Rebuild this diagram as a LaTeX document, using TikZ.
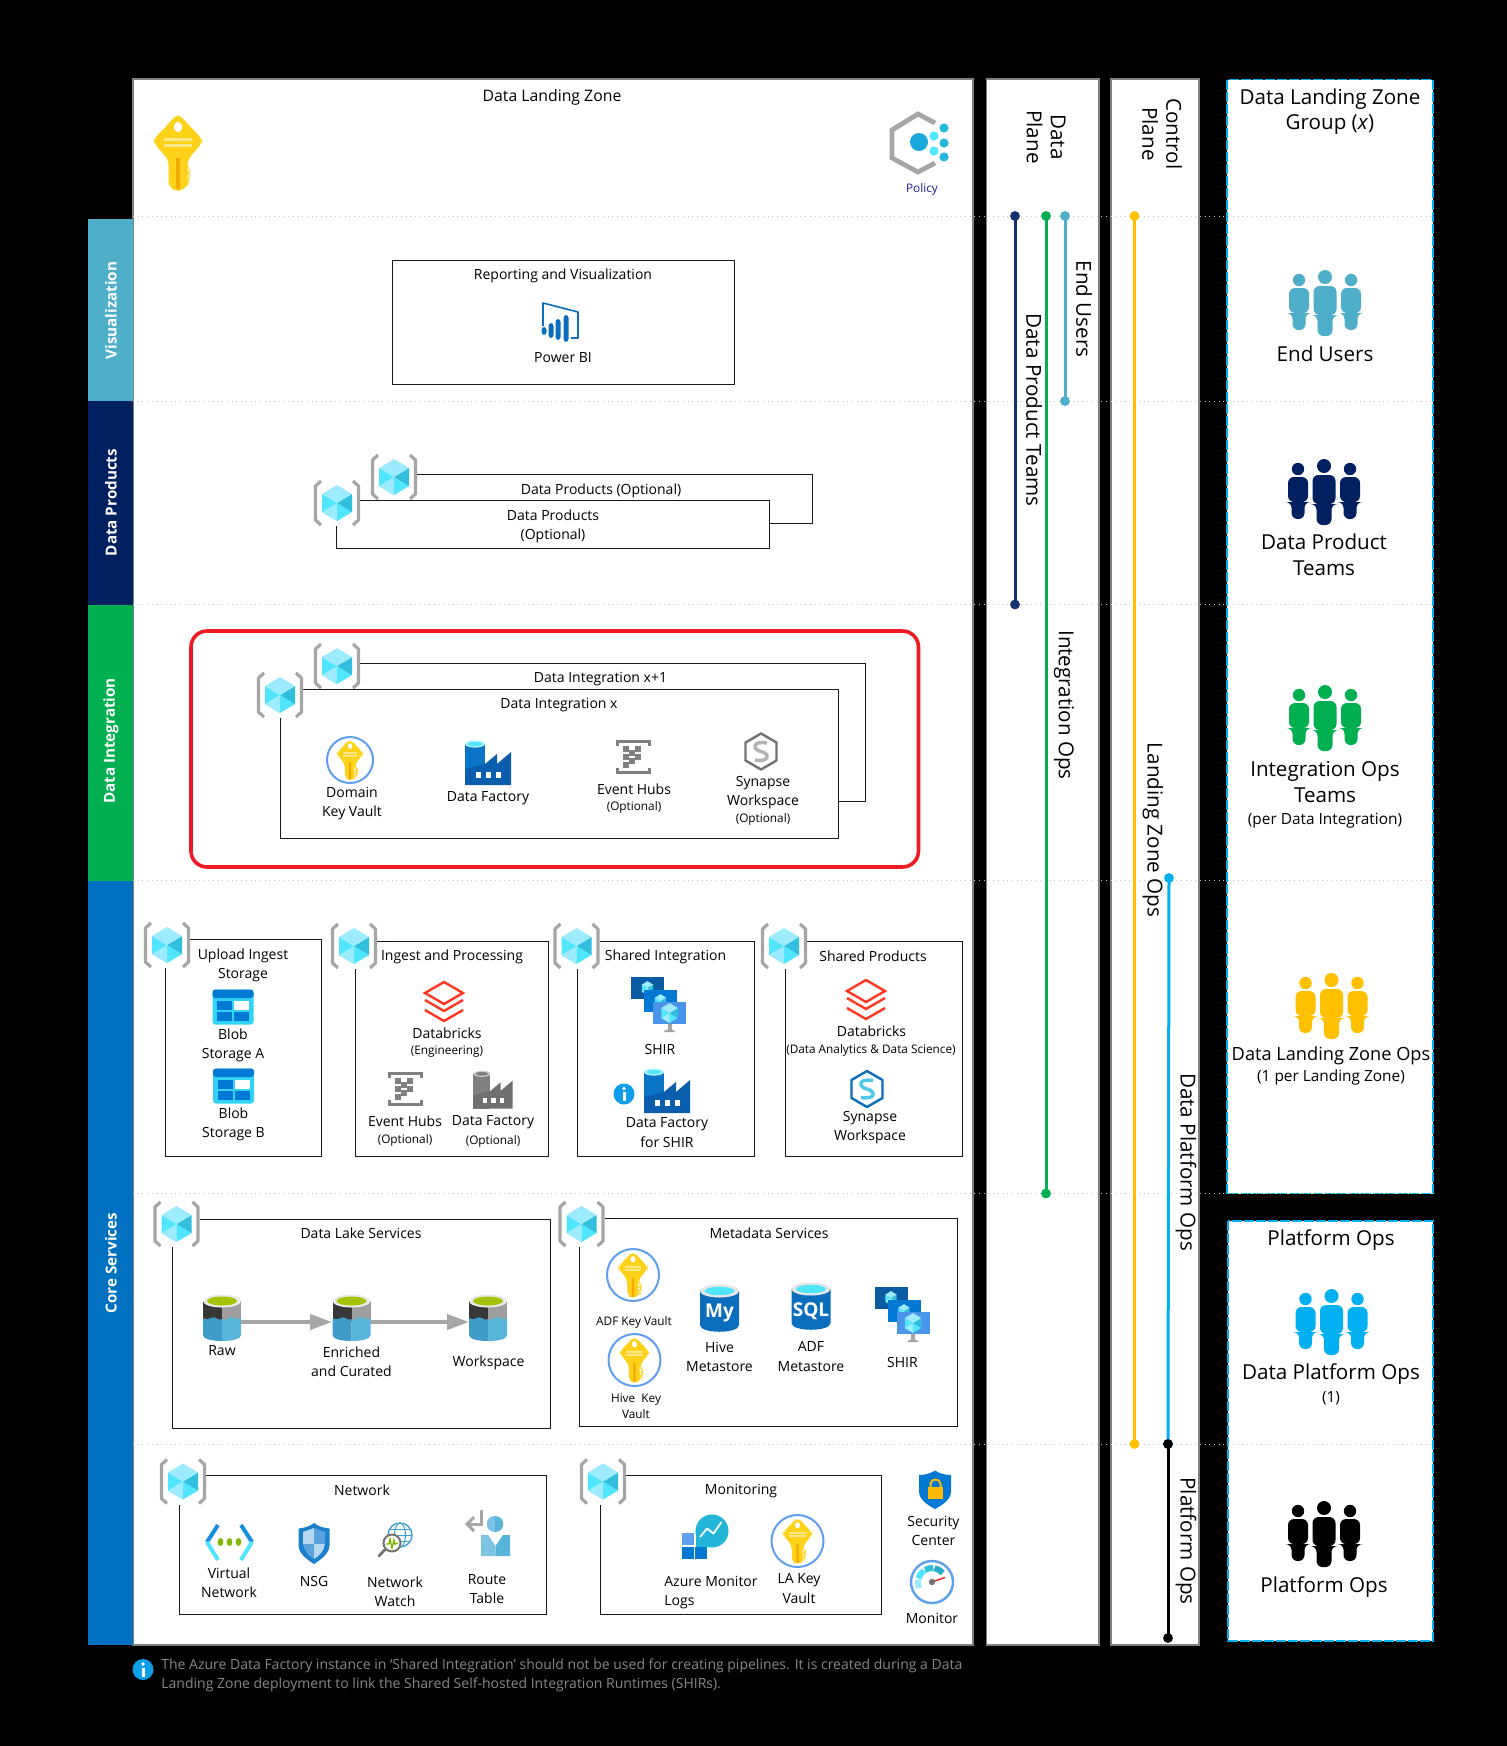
\documentclass[tikz,border=0pt]{standalone}
\usepackage{fontspec}
\setmainfont{Open Sans}
\usetikzlibrary{arrows.meta}
\definecolor{cVis}{HTML}{4FAEC8}
\definecolor{cProd}{HTML}{002060}
\definecolor{cInt}{HTML}{00B050}
\definecolor{cCore}{HTML}{0070C0}
\definecolor{cLZ}{HTML}{FFC000}
\definecolor{cDP}{HTML}{00B0F0}
\definecolor{cGr}{HTML}{A6A6A6}
\definecolor{cBl}{HTML}{0A6EBD}
\definecolor{cCy}{HTML}{50E6FF}
\definecolor{cKey}{HTML}{FFD21A}
\definecolor{cRing}{HTML}{5EA0EF}
\definecolor{cRed}{HTML}{ED1C24}
\definecolor{cDb}{HTML}{FF3621}
\definecolor{cCubeD}{HTML}{32BEDD}
\definecolor{cCubeL}{HTML}{9CEBFF}
\definecolor{cKeyD}{HTML}{F2A900}
\definecolor{cKeyL}{HTML}{FFE88A}
\definecolor{cBlobC}{HTML}{32D4F5}
\definecolor{cBlob}{HTML}{0078D4}
\definecolor{mA}{HTML}{0B5BA3}\definecolor{mB}{HTML}{0078D4}\definecolor{mC}{HTML}{4A94EA}
\definecolor{wL}{HTML}{3F9CC9}\definecolor{wR}{HTML}{59B4D9}\definecolor{gn}{HTML}{A4C400}
\definecolor{pA}{HTML}{1BA8DC}\definecolor{pB}{HTML}{29B6DC}\definecolor{pT}{HTML}{1F1F9F}
\definecolor{fB}{HTML}{0A74C6}\definecolor{fD}{HTML}{0B5EAD}\definecolor{fG}{HTML}{808080}\definecolor{fH}{HTML}{707070}
\definecolor{cInfo}{HTML}{0F9FE8}\definecolor{cSyn}{HTML}{50C8E8}
\definecolor{vU}{HTML}{1490DF}\definecolor{vG}{HTML}{7FBA00}
\definecolor{nB}{HTML}{1B7FCB}\definecolor{nL}{HTML}{B7D7F0}\definecolor{nM}{HTML}{5BA3DE}
\definecolor{gB}{HTML}{3B9FD4}\definecolor{rA}{HTML}{7DC3E3}\definecolor{rB}{HTML}{59B4D9}
\definecolor{wA}{HTML}{5EA0EF}\definecolor{wB}{HTML}{0078D4}\definecolor{bU}{HTML}{22B5D8}
\definecolor{cLock}{HTML}{FFB900}
\definecolor{g1}{HTML}{9CEBFF}\definecolor{g2}{HTML}{32BEDD}\definecolor{g3}{HTML}{29ABC9}
\tikzset{
 panel/.style={fill=white,draw=black!50,line width=0.6pt},
 rowline/.style={draw=black!22,line width=0.35pt,dotted},
 box/.style={draw=black!90,line width=0.48pt},
 lbl/.style={inner sep=0pt,align=center,font=\fontsize{7.0}{9.6}\selectfont},
 lblS/.style={inner sep=0pt,align=center,font=\fontsize{5.9}{8}\selectfont},
 grp/.style={inner sep=0pt,align=center,font=\fontsize{10.3}{12.8}\selectfont},
 grpS/.style={inner sep=0pt,align=center,font=\fontsize{7.7}{10}\selectfont},
 vert/.style={inner sep=0pt,align=center,rotate=-90,font=\fontsize{10.3}{12}\selectfont},
 strip/.style={inner sep=0pt,rotate=90,text=white,font=\fontsize{7.6}{9}\selectfont\bfseries},
 ops/.style={line width=1.5pt,shorten <=-2.4pt,shorten >=-2.4pt,{Circle[length=4.8pt]}-{Circle[length=4.8pt]}},
 flow/.style={draw=cGr,line width=2pt,-{Triangle[length=11pt,width=7.5pt]}},
 group/.style={fill=white,draw=cDP,line width=0.7pt,dash pattern=on 5pt off 1pt},
}
% person group
\newcommand\People[3]{\begin{scope}[shift={(#1,#2)}]
 \fill[#3] (0,7) circle[radius=7];
 \fill[#3,rounded corners=3] (-11.5,16) -- (11.5,16) -- (11.5,45) -- (7.5,45) -- (7.5,66) -- (-7.5,66) -- (-7.5,45) -- (-11.5,45) -- cycle;
 \foreach \s in {-26,26}{
 \fill[#3] (\s,10) circle[radius=6.2];
 \fill[#3,rounded corners=3] (\s-10,18) -- (\s+10,18) -- (\s+10,43) -- (\s+6.5,43) -- (\s+6.5,60) -- (\s-6.5,60) -- (\s-6.5,43) -- (\s-10,43) -- cycle;}
\end{scope}}
% cube
\newcommand\ICube[3]{\begin{scope}[shift={(#1,#2)},scale=#3]
 \fill[cCy] (-15,-9) -- (0,0) -- (0,18) -- (-15,9) -- cycle;
 \fill[cCy] (0,0) -- (15,9) -- (0,18) -- cycle;
 \fill[cCubeD] (15,-9) -- (15,9) -- (0,0) -- cycle;
 \fill[cCubeL] (0,-18) -- (15,-9) -- (0,0) -- (-15,-9) -- cycle;
 \fill[cCubeL] (0,0) -- (0,18) -- (-15,9) -- cycle;
\end{scope}}
\newcommand\IBr[2]{\begin{scope}[shift={(#1,#2)}]
 \fill[white] (-23,-23) rectangle (23,23);
 \draw[cGr,line width=1.6pt,line join=round] (-16,-22) -- (-21.5,-17) -- (-21.5,17) -- (-16,22);
 \draw[cGr,line width=1.6pt,line join=round] (16,-22) -- (21.5,-17) -- (21.5,17) -- (16,22);
\end{scope}\ICube{#1}{#2}{1}}
% key
\newcommand\IKey[3]{\begin{scope}[shift={(#1,#2)},scale=#3]
 \fill[cKey,rounded corners=2.5] (0,-39.5) -- (24,-14) -- (24,-10) -- (9.5,7) -- (9.5,14) -- (12,17) -- (9.5,20) -- (12,23) -- (9.5,26) -- (11,29) -- (9.5,33) -- (0,39.5) -- (-9.5,33) -- (-9.5,7) -- (-24,-10) -- (-24,-14) -- cycle;
 \fill[cKeyD] (-2,5) -- (2,5) -- (2,35) -- (0,37) -- (-2,35) -- cycle;
 \fill[white] (0,-26) ellipse[x radius=4.2,y radius=5.2];
 \fill[cKeyL] (-14,-15.5) rectangle (14,-12);
 \fill[cKeyL] (-14,-9.5) rectangle (14,-6);
\end{scope}}
\newcommand\IKV[3]{\draw[fill=white,draw=cRing,line width=1pt] (#1,#2) circle[radius=#3];\IKey{#1}{#2}{#3/43}}
% data factory: x y body dark top
\newcommand\IFac[5]{\begin{scope}[shift={(#1,#2)}]
 \fill[#3] (-23,-19) -- (-3,-19) -- (-3,22) -- (-23,22) -- cycle;
 \fill[#4] (-23,6) -- (-3,1) -- (9,-9) -- (9,1) -- (23,-11) -- (23,22) -- (-23,22) -- cycle;
 \fill[#5!40!white] (-13,-19) ellipse[x radius=10,y radius=3.6];
 \fill[#5] (-13,-19) ellipse[x radius=7.5,y radius=2.2];
 \foreach \w in {-12,-2,8}{\fill[white] (\w,9) rectangle (\w+5,15);}
\end{scope}}
% event hubs
\newcommand\IEH[2]{\begin{scope}[shift={(#1,#2)}]
 \draw[black!50,line width=1.5pt] (-16,-11) -- (-16,-15.5) -- (16,-15.5) -- (16,-11);
 \draw[black!50,line width=1.5pt] (-16,11) -- (-16,15.5) -- (16,15.5) -- (16,11);
 \foreach \a/\b in {-7/-8,-7/0,-7/8,-1/-4,-1/4,5/0,5/-8}{\fill[black!50] (\a-2.6,\b-2.6) rectangle (\a+2.6,\b+2.6);}
\end{scope}}
% synapse
\newcommand\ISyn[4]{\begin{scope}[shift={(#1,#2)}]
 \draw[#3,line width=1.2pt,line join=round] (0,-18) -- (15.5,-9) -- (15.5,9) -- (0,18) -- (-15.5,9) -- (-15.5,-9) -- cycle;
 \draw[#4,line width=1.7pt] (6,-8.5) .. controls (-9,-11) and (-9,-2) .. (0,0) .. controls (9,2) and (9,11) .. (-6,8.5);
\end{scope}}
% databricks
\newcommand\IDb[2]{\begin{scope}[shift={(#1,#2)}]
 \draw[cDb,line width=1.2pt,line join=miter] (0,-20) -- (19,-9) -- (0,2) -- (-19,-9) -- cycle;
 \draw[cDb,line width=1.2pt] (-19,-2) -- (0,9) -- (19,-2);
 \draw[cDb,line width=1.2pt] (-19,8) -- (0,19) -- (19,8);
\end{scope}}
% blob
\newcommand\IBlob[2]{\begin{scope}[shift={(#1,#2)}]
 \fill[cBlobC,rounded corners=1.5] (-20.5,-17.5) rectangle (20.5,17.5);
 \fill[cBlob,rounded corners=1.5] (-20.5,-17.5) rectangle (20.5,-9);
 \fill[cBlob] (-16,-6) rectangle (-1,3);
 \fill[white] (1,-6) rectangle (16,3);
 \fill[cBlob] (-16,5) rectangle (-1,14);
 \fill[cBlob] (1,5) rectangle (16,14);
\end{scope}}
% SHIR monitors
\newcommand\IVm[4]{\fill[#4] (#1,#2) rectangle (#1+33,#2+22);\ICube{#1+16.5}{#2+11}{#3}}
\newcommand\IShir[2]{\begin{scope}[shift={(#1,#2)}]
 \IVm{-27.5}{-27.5}{0.38}{mA}
 \IVm{-14.5}{-14.5}{0.38}{mB}
 \IVm{-5.5}{-2.5}{0.55}{mC}
 \fill[black!35] (9,19.5) rectangle (13,25);
 \fill[black!35] (5,27.5) -- (17,27.5) -- (14,25) -- (8,25) -- cycle;
\end{scope}}
% lake cylinder
\newcommand\ILake[2]{\begin{scope}[shift={(#1,#2)}]
 \fill[black!78] (-19,-17) rectangle (0,4);
 \fill[cGr!95!black] (0,-17) rectangle (19,4);
 \fill[wL] (-19,0) .. controls (-14,4) and (-9,-3) .. (-6,0) .. controls (-4,2) and (-2,2) .. (0,1) -- (0,23) .. controls (-10,23) and (-19,21) .. (-19,17) -- cycle;
 \fill[wR] (19,0) .. controls (14,3) and (9,-3) .. (6,0) .. controls (4,2) and (2,3) .. (0,1) -- (0,23) .. controls (10,23) and (19,21) .. (19,17) -- cycle;
 \fill[black!8] (0,-17) ellipse[x radius=19,y radius=6.5];
 \fill[gn] (0,-17) ellipse[x radius=15,y radius=4.5];
\end{scope}}
% metastore cylinder
\newcommand\IMeta[4]{\begin{scope}[shift={(#1,#2)}]
 \fill[cBl] (-19.5,-17) -- (19.5,-17) -- (19.5,17) .. controls (19.5,26) and (-19.5,26) .. (-19.5,17) -- cycle;
 \fill[black!10] (0,-17) ellipse[x radius=19.5,y radius=6.5];
 \fill[cCy] (0,-17) ellipse[x radius=15,y radius=4.2];
 \node[inner sep=0pt,text=white,font=\fontsize{9.5}{10}\selectfont\bfseries] (#3) at (0,5) {#4};
\end{scope}}
\begin{document}
\begin{tikzpicture}[x=0.5pt,y=-0.5pt]
\useasboundingbox (0,0) rectangle (1507,1746);
\fill[black] (0,0) rectangle (1507,1746);
% panels
\filldraw[panel] (133,79) rectangle (973,1645);
\filldraw[panel] (986.5,79) rectangle (1099,1645);
\filldraw[panel] (1111,79) rectangle (1199,1645);
\draw[group] (1227,79.5) rectangle (1433,1193.5);
\draw[group] (1228,1221) rectangle (1433,1641);
% strips
\fill[cVis] (87.5,219) rectangle (133,401);
\fill[cProd] (87.5,401) rectangle (133,605);
\fill[cInt] (87.5,605) rectangle (133,880.5);
\fill[cCore] (87.5,880.5) rectangle (133,1645);
\node[strip] (sVis) at (111,310.5) {Visualization};
\node[strip] (sProd) at (111,502.5) {Data Products};
\node[strip] (sInt) at (111,741) {Data Integration};
\node[strip] (sCore) at (111,1263) {Core Services};
% row lines
\foreach \y in {216,401,604.5,880.5,1193.5,1444}{\draw[rowline] (133,\y) -- (1433,\y);}
% header
\node[lbl,font=\fontsize{7.9}{9.6}\selectfont] (tDLZ) at (552,97) {Data Landing Zone};
\IKey{178}{153}{1}
% policy
\draw[cGr,line width=2.4pt,line join=miter] (935,123) -- (918,114) -- (892,130) -- (892,158) -- (918,172) -- (935,163);
\fill[pA] (919,142) circle[radius=9];
\foreach \py in {136,151}{\fill[cCy] (934,\py) circle[radius=4.6];}
\foreach \py in {128,143,157}{\fill[pB] (944,\py) circle[radius=4.6];}
\node[lblS,text=pT] (tPol) at (922,189) {Policy};
% reporting
\draw[box] (392,260) rectangle (734,384);
\node[lbl] (tRep) at (563,276) {Reporting and Visualization};
\draw[cBl,line width=0.8pt,line join=round] (543,326) -- (543,303) -- (578,312) -- (578,338) -- (571,338);
\foreach \bx/\bt/\bb in {544/327/335,551/323/338,558/319/340,566/315/342}{\fill[cBl,rounded corners=1.5] (\bx-2.5,\bt) rectangle (\bx+2.5,\bb);}
\node[lbl] (tPBI) at (563,358) {Power BI};
% data products
\draw[box] (401,474.5) -- (812,474.5) -- (812,523) -- (769,523);
\draw[box] (390,490) -- (390,500);
\IBr{394}{477}
\draw[box] (336,500) rectangle (769,548.5);
\IBr{337}{503}
\node[lbl] (tDP1) at (601,491) {Data Products (Optional)};
\node[lbl] (tDP2) at (553,526.5) {Data Products\\(Optional)};
% integration
\draw[cRed,line width=1.8pt,rounded corners=8pt] (191,631) rectangle (918.5,867);
\draw[box] (337,663) -- (865,663) -- (865,801) -- (838,801);
\draw[box] (337,680) -- (337,689);
\IBr{337}{666}
\draw[box] (280,689) rectangle (838,838.5);
\IBr{280}{695}
\node[lbl] (tDI1) at (600.5,679) {Data Integration x+1};
\node[lbl] (tDI2) at (559,705.5) {Data Integration x};
\IKV{350}{760}{23}
\node[lbl] (tDKV) at (352,803.5) {Domain\\Key Vault};
\IFac{488}{763}{fB}{fD}{cCy}
\node[lbl] (tDF) at (488,798) {Data Factory};
\IEH{633}{757}
\node[lbl] (tEH) at (634,789.5) {Event Hubs};
\node[lblS] (tEHo) at (634,807.5) {(Optional)};
\ISyn{761}{751.5}{black!55}{black!30}
\node[lbl] (tSyn) at (763,792.5) {Synapse\\Workspace};
\node[lblS] (tSyno) at (763,819) {(Optional)};
% core boxes row 1
\draw[box] (165,939) rectangle (321,1156.5);
\IBr{167}{945}
\node[lbl] (tUp) at (243,965.5) {Upload Ingest\\Storage};
\IBlob{233}{1007}
\node[lbl] (tBA) at (233,1045.5) {Blob\\Storage A};
\IBlob{233.5}{1086}
\node[lbl] (tBB) at (233.5,1124) {Blob\\Storage B};
\draw[box] (355.5,941) rectangle (548,1156.5);
\IBr{354}{946}
\node[lbl] (tIP) at (452,957) {Ingest and Processing};
\IDb{444}{1002}
\node[lbl] (tDbE) at (447,1033.5) {Databricks};
\node[lblS] (tDbEs) at (447,1052) {(Engineering)};
\IEH{405}{1089}
\node[lbl] (tEH2) at (405,1121.5) {Event Hubs};
\node[lblS] (tEH2o) at (405,1140) {(Optional)};
\begin{scope}[shift={(493,1090)},scale=0.85]\IFac{0}{0}{fG}{fH}{fG}\end{scope}
\node[lbl] (tDF2) at (493,1122) {Data Factory};
\node[lblS] (tDF2o) at (493,1141) {(Optional)};
\draw[box] (577,941) rectangle (754.5,1156.5);
\IBr{576.5}{946}
\node[lbl] (tSI) at (665.5,957) {Shared Integration};
\IShir{658.5}{1004.5}
\node[lbl] (tSH) at (660,1049) {SHIR};
\fill[cInfo] (624,1094) circle[radius=10.5];
\fill[white] (624,1088.5) circle[radius=1.8];
\fill[white] (622.5,1092) rectangle (625.5,1101);
\IFac{667}{1091}{fB}{fD}{cCy}
\node[lbl] (tDFS) at (667,1132.5) {Data Factory\\for SHIR};
\draw[box] (785,941) rectangle (962,1156.5);
\IBr{784}{946}
\node[lbl] (tSP) at (873,956) {Shared Products};
\IDb{866}{1000}
\node[lbl] (tDbA) at (871.5,1031) {Databricks};
\node[lblS] (tDbAs) at (871,1050) {(Data Analytics \& Data Science)};
\ISyn{867}{1089}{cBl}{cSyn}
\node[lbl] (tSynB) at (870,1127.5) {Synapse\\Workspace};
% data lake
\draw[box] (172,1219) rectangle (550.5,1428.5);
\IBr{176.5}{1224}
\node[lbl] (tLake) at (361,1233.5) {Data Lake Services};
\coordinate (rawR) at (241,1322);
\coordinate (enrL) at (332,1322);
\coordinate (enrR) at (370,1322);
\coordinate (wksL) at (469,1322);
\draw[flow] (rawR) -- (enrL);
\draw[flow] (enrR) -- (wksL);
\ILake{222}{1318}
\ILake{351.5}{1318}
\ILake{488}{1318}
\node[lbl] (tRaw) at (222,1351) {Raw};
\node[lbl] (tEnr) at (351.5,1362) {Enriched\\and Curated};
\node[lbl] (tWks) at (488.5,1362.5) {Workspace};
% metadata
\draw[box] (579.5,1218) rectangle (957.5,1426);
\IBr{581.5}{1224}
\node[lbl] (tMeta) at (769,1233.5) {Metadata Services};
\IKV{633}{1275}{26}
\node[lblS] (tADFK) at (634,1322.5) {ADF Key Vault};
\IKV{634.5}{1360}{26}
\node[lblS] (tHK) at (636,1406.5) {Hive\ \ Key\\Vault};
\IMeta{719.5}{1308}{tMy}{My}
\node[lbl] (tHive) at (719.5,1357) {Hive\\Metastore};
\IMeta{811}{1306}{tSQL}{SQL}
\node[lbl] (tADFm) at (811,1356.5) {ADF\\Metastore};
\IShir{902}{1314.5}
\node[lbl] (tSH2) at (902.5,1362.5) {SHIR};
% network
\draw[box] (179,1475) rectangle (546,1614);
\IBr{183}{1481.5}
\node[lbl] (tNet) at (362,1490) {Network};
\draw[vU,line width=2pt] (218,1525) -- (207,1542);
\draw[cCy,line width=2pt] (207,1542) -- (218,1560);
\draw[vU,line width=2pt] (241,1525) -- (252,1542);
\draw[cCy,line width=2pt] (252,1542) -- (241,1560);
\foreach \dx in {220.5,229.5,238.5}{\fill[vG] (\dx,1542) ellipse[x radius=2.8,y radius=4];}
\node[lbl] (tVN) at (229,1583) {Virtual\\Network};
\fill[nB] (314,1523) .. controls (319,1527) and (325,1528) .. (329.5,1528.5) -- (329.5,1545) .. controls (329.5,1554) and (320,1560) .. (314,1564) .. controls (308,1560) and (298.5,1554) .. (298.5,1545) -- (298.5,1528.5) .. controls (303,1528) and (309,1527) .. (314,1523) -- cycle;
\fill[nL] (314,1528) -- (303,1532) -- (303,1544) -- (314,1544) -- cycle;
\fill[nM] (314,1528) -- (325,1532) -- (325,1544) -- (314,1544) -- cycle;
\fill[nM] (303,1544) .. controls (304,1551) and (309,1556) .. (314,1559) -- (314,1544) -- cycle;
\fill[nL] (325,1544) .. controls (324,1551) and (319,1556) .. (314,1559) -- (314,1544) -- cycle;
\node[lbl] (tNSG) at (314,1581) {NSG};
\draw[gB,line width=0.7pt] (400,1535) circle[radius=12];
\draw[gB,line width=0.5pt] (400,1535) ellipse[x radius=5.5,y radius=12];
\draw[gB,line width=0.5pt] (388,1535) -- (412,1535) (390,1529) -- (410,1529) (390,1541) -- (410,1541);
\draw[black!55,line width=1.4pt,line cap=round] (385,1549.5) -- (379,1556);
\draw[fill=white,draw=black!55,line width=1pt] (392,1543) circle[radius=8.5];
\draw[vG,line width=0.7pt] (386,1544) -- (389,1544) -- (390,1539) -- (392,1548) -- (394,1540) -- (395,1544) -- (398,1543);
\node[lbl] (tNW) at (395,1592) {Network\\Watch};
\draw[cGr,line width=1.5pt,-{Straight Barb[length=3.5pt,width=7pt]}] (481.5,1510) -- (481.5,1524) -- (465,1524);
\fill[rA] (495,1516) .. controls (484,1516) and (484,1532) .. (495,1532) -- cycle;
\fill[rB] (495,1516) .. controls (506,1516) and (506,1532) .. (495,1532) -- cycle;
\fill[rA] (481,1535) -- (488,1535) -- (495.5,1546) -- (495.5,1556) -- (481,1556) -- cycle;
\fill[rB] (510,1535) -- (503,1535) -- (495.5,1546) -- (495.5,1556) -- (510,1556) -- cycle;
\node[lbl] (tRT) at (487,1589) {Route\\Table};
% monitoring
\draw[box] (600.5,1475) rectangle (881,1614);
\IBr{603}{1481.5}
\node[lbl] (tMon) at (741,1491) {Monitoring};
\fill[wA] (681.5,1533) rectangle (693.5,1545);
\fill[wB] (681.5,1546.5) rectangle (693.5,1558.5);
\fill[wB] (695,1546.5) rectangle (707,1558.5);
\fill[bU] (712,1531) circle[radius=16.5];
\fill[bU] (696,1531) -- (696,1547) -- (712,1547) -- cycle;
\draw[white,line width=0.9pt,line join=round] (700,1537) -- (707,1528.5) -- (713.5,1533.5) -- (721.5,1522);
\node[lbl,align=left] (tAML) at (711,1592.5) {Azure Monitor\\Logs};
\IKV{797.5}{1541}{26}
\node[lbl] (tLAK) at (799,1588.5) {LA Key\\Vault};
% security
\fill[cBlob] (935,1470.5) .. controls (940,1474) and (946,1475) .. (951,1475) -- (951,1491) .. controls (951,1500) and (942,1505) .. (935,1509) .. controls (928,1505) and (919,1500) .. (919,1491) -- (919,1475) .. controls (924,1475) and (930,1474) .. (935,1470.5) -- cycle;
\draw[cLock,line width=1pt] (930.5,1488) -- (930.5,1484) .. controls (930.5,1478) and (940.5,1478) .. (940.5,1484) -- (940.5,1488);
\fill[cLock] (928,1487) rectangle (943,1499);
\node[lbl] (tSC) at (933.5,1531) {Security\\Center};
% monitor gauge
\begin{scope}[shift={(932,1582)}]
 \draw[fill=white,draw=cRing,line width=1.2pt] (0,0) circle[radius=21];
 \foreach \a/\b/\c in {205/170/g1,165/125/cCy,120/85/g2,80/40/g3}{
 \draw[\c,line width=3pt] ({14*cos(\a)},{-14*sin(\a)}) -- ({14*cos((\a+\b)/2)},{-14*sin((\a+\b)/2)}) -- ({14*cos(\b)},{-14*sin(\b)});}
 \draw[cRed,line width=0.7pt] (0,0) -- (13,-4.5);
 \fill[black!55] (0,0) circle[radius=3.2];
\end{scope}
\node[lbl] (tMonit) at (932,1618.5) {Monitor};
% note
\fill[cInfo] (143,1669.5) circle[radius=10.5];
\fill[white] (143,1664) circle[radius=1.8];
\fill[white] (141.5,1667.5) rectangle (144.5,1676.5);
\node[anchor=west,inner sep=0pt,align=left,text=black!47,font=\fontsize{7}{9.5}\selectfont] (tNote) at (161,1675.5) {The Azure Data Factory instance in ‘Shared Integration’ should not be used for creating pipelines. It is created during a Data\\Landing Zone deployment to link the Shared Self-hosted Integration Runtimes (SHIRs).};
% plane labels
\node[vert] (tDPl) at (1046,137) {Data\\Plane};
\node[vert] (tCPl) at (1162,134) {Control\\Plane};
\coordinate (a1) at (1015,216); \coordinate (a2) at (1015,604.5);
\coordinate (b1) at (1046,216); \coordinate (b2) at (1046,1193.5);
\coordinate (c1) at (1065,216); \coordinate (c2) at (1065,401);
\coordinate (d1) at (1134.5,216); \coordinate (d2) at (1134.5,1444);
\coordinate (e1) at (1169,878); \coordinate (e2) at (1168,1444);
\coordinate (f2) at (1168,1638);
\draw[ops,cProd!92!white] (a1) -- (a2);
\draw[ops,cInt] (b1) -- (b2);
\draw[ops,cVis] (c1) -- (c2);
\draw[ops,cLZ] (d1) -- (d2);
\draw[ops,cDP] (e1) -- (e2);
\draw[ops,black] (e2) -- (f2);
\node[vert] (tEU) at (1084,309) {End Users};
\node[vert] (tDPT) at (1034,410) {Data Product Teams};
\node[vert] (tIO) at (1064,705) {Integration Ops};
\node[vert] (tLZO) at (1153,830) {Landing Zone Ops};
\node[vert] (tDPO) at (1186,1162) {Data Platform Ops};
\node[vert] (tPO) at (1186,1541) {Platform Ops};
% right column
\node[grp] (gT) at (1330,111.5) {Data Landing Zone\\Group (\textit{x})};
\People{1325}{270}{cVis}
\node[grp] (gEU) at (1325,354) {End Users};
\People{1324}{459}{cProd}
\node[grp] (gDP) at (1324,555) {Data Product\\Teams};
\People{1325}{685}{cInt}
\node[grp] (gIO) at (1325,782) {Integration Ops\\Teams};
\node[grpS] (gIOs) at (1325,821) {(per Data Integration)};
\People{1331.5}{973}{cLZ}
\node[grp,font=\fontsize{9.1}{11}\selectfont] (gLZ) at (1331,1056) {Data Landing Zone Ops};
\node[grpS] (gLZs) at (1331,1077.5) {(1 per Landing Zone)};
\node[grp] (gPT) at (1331,1240.5) {Platform Ops};
\People{1331.5}{1289}{cDP}
\node[grp] (gDPO) at (1331,1374.5) {Data Platform Ops};
\node[grpS] (gDPOs) at (1331,1398) {(1)};
\People{1324}{1501}{black}
\node[grp] (gPO) at (1324,1587) {Platform Ops};
\end{tikzpicture}
\end{document}
